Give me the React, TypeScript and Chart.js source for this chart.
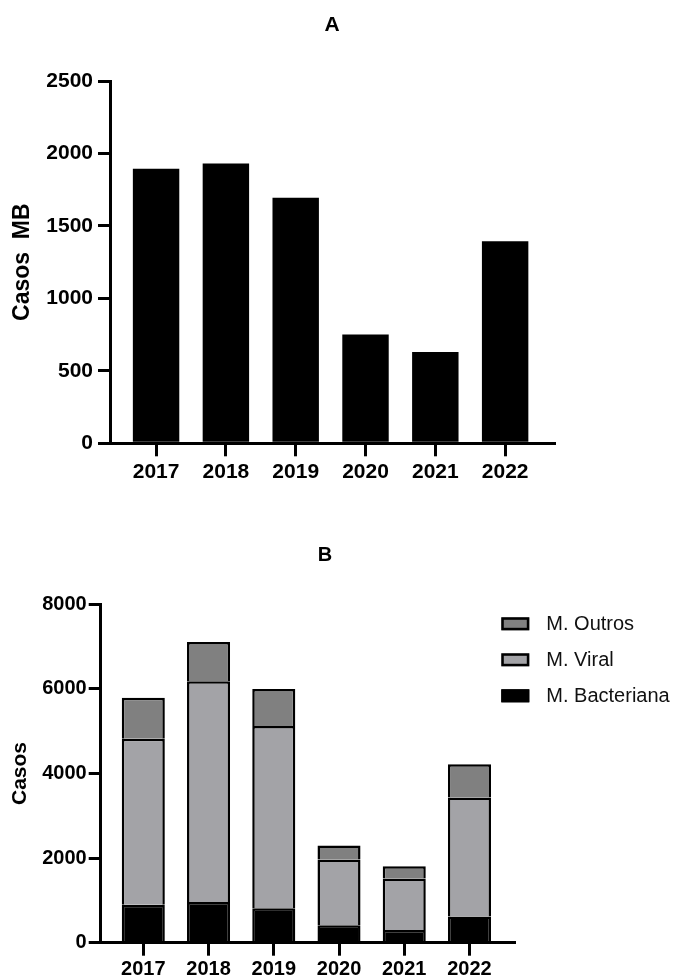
import React, { useEffect, useRef } from "react";
import { Chart, registerables } from "chart.js";

Chart.register(...registerables);
Chart.defaults.font.family = '"Liberation Sans", Arial, Helvetica, sans-serif';
Chart.defaults.color = "#000";

// ---------- data ----------
const years = ["2017", "2018", "2019", "2020", "2021", "2022"];
const casosMB = [1895, 1930, 1695, 750, 630, 1395];
const bacteriana = [895, 960, 815, 415, 300, 620];
const viral = [3925, 5220, 4305, 1550, 1215, 2815];
const outros = [970, 930, 880, 335, 295, 785];
const ticksA = [0, 500, 1000, 1500, 2000, 2500];
const ticksB = [0, 2000, 4000, 6000, 8000];

const toPoints = (vals: number[]) => vals.map((v, i) => ({ x: i, y: v }));

const xScale = (min: number, max: number, fontSize: number, height: number, pad: number, stacked: boolean) => ({
  type: "linear",
  min,
  max,
  offset: false,
  stacked,
  afterBuildTicks: (s: any) => {
    s.ticks = years.map((_, i) => ({ value: i }));
  },
  afterFit: (s: any) => {
    s.height = height;
  },
  ticks: {
    callback: (v: any) => years[v] ?? "",
    font: { size: fontSize, weight: "bold" },
    color: "#000",
    padding: pad,
    autoSkip: false,
    maxRotation: 0,
  },
  grid: {
    display: true,
    offset: false,
    drawOnChartArea: false,
    drawTicks: true,
    tickLength: 13,
    lineWidth: 3,
    color: "#000",
  },
  border: { display: true, width: 3, color: "#000", z: 1 },
});

const yScale = (
  max: number,
  ticks: number[],
  fontSize: number,
  width: number,
  pad: number,
  title: string,
  titleSize: number,
  titlePad: number,
  stacked: boolean
) => ({
  type: "linear",
  min: 0,
  max,
  stacked,
  afterBuildTicks: (s: any) => {
    s.ticks = ticks.map((v) => ({ value: v }));
  },
  afterFit: (s: any) => {
    s.width = width;
  },
  ticks: {
    callback: (v: any) => String(v),
    font: { size: fontSize, weight: "bold" },
    color: "#000",
    padding: pad,
  },
  grid: {
    display: true,
    drawOnChartArea: false,
    drawTicks: true,
    tickLength: 12,
    lineWidth: 3,
    color: "#000",
  },
  border: { display: true, width: 3, color: "#000", z: 1 },
  title: {
    display: true,
    text: title,
    font: { size: titleSize, weight: "bold" },
    color: "#000",
    padding: { top: titlePad, bottom: 0 },
  },
});

const legendB = {
  id: "legendB",
  afterDraw(chart: any) {
    const { ctx, chartArea } = chart;
    const ds = chart.data.datasets.slice().reverse();
    ctx.save();
    ds.forEach((d: any, i: number) => {
      const cy = chartArea.top + 19.5 + i * 36;
      const bx = chartArea.right - 13;
      const bw = 28;
      const bh = 13;
      ctx.fillStyle = d.backgroundColor;
      ctx.fillRect(bx, cy - bh / 2, bw, bh);
      ctx.strokeStyle = "#000";
      ctx.lineWidth = 2.5;
      ctx.strokeRect(bx + 1.25, cy - bh / 2 + 1.25, bw - 2.5, bh - 2.5);
      ctx.fillStyle = "#111";
      ctx.font = '20px "Liberation Sans", Arial, sans-serif';
      ctx.textAlign = "left";
      ctx.textBaseline = "middle";
      ctx.fillText(d.label, bx + 45, cy + 1);
    });
    ctx.restore();
  },
};

const configA = (): any => ({
  type: "bar",
  data: {
    datasets: [
      {
        label: "Casos MB",
        data: toPoints(casosMB),
        backgroundColor: "#000",
        borderWidth: 0,
        barPercentage: 0.665,
        categoryPercentage: 1,
      },
    ],
  },
  options: {
    responsive: false,
    animation: false,
    devicePixelRatio: 1,
    layout: { padding: { left: 0, right: 130, top: 0, bottom: 0 } },
    plugins: {
      legend: { display: false },
      tooltip: { enabled: false },
      title: {
        display: true,
        text: "A",
        fullSize: false,
        color: "#000",
        font: { size: 21, weight: "bold" },
        padding: { top: 13, bottom: 42.8 },
      },
    },
    scales: {
      x: xScale(-0.66, 5.7, 21, 56.7, 3, false),
      y: yScale(2500, ticksA, 21, 110, 5, "Casos  MB", 23, 9, false),
    },
  },
});

const configB = (): any => ({
  type: "bar",
  data: {
    datasets: [
      {
        label: "M. Bacteriana",
        data: toPoints(bacteriana),
        backgroundColor: "#000000",
        borderColor: "#000",
        borderWidth: 2.5,
        barPercentage: 0.66,
        categoryPercentage: 1,
      },
      {
        label: "M. Viral",
        data: toPoints(viral),
        backgroundColor: "#a3a3a7",
        borderColor: "#000",
        borderWidth: 2.5,
        barPercentage: 0.66,
        categoryPercentage: 1,
      },
      {
        label: "M. Outros",
        data: toPoints(outros),
        backgroundColor: "#808080",
        borderColor: "#000",
        borderWidth: 2.5,
        barPercentage: 0.66,
        categoryPercentage: 1,
      },
    ],
  },
  options: {
    responsive: false,
    animation: false,
    devicePixelRatio: 1,
    layout: { padding: { left: 0, right: 34, top: 0, bottom: 0 } },
    plugins: {
      legend: { display: false },
      tooltip: { enabled: false },
      title: {
        display: true,
        text: "B",
        color: "#000",
        font: { size: 20, weight: "bold" },
        padding: { top: 43, bottom: 37.3 },
      },
    },
    scales: {
      x: xScale(-0.653, 5.687, 20, 36.3, 2, true),
      y: yScale(8000, ticksB, 20, 100.7, 2, "Casos", 21, 7.5, true),
      yR: {
        type: "linear",
        position: "right",
        display: true,
        ticks: { display: false },
        grid: { display: false },
        border: { display: false },
        afterFit: (s: any) => {
          s.width = 135.7;
        },
      },
    },
  },
  plugins: [legendB],
});

function ChartCanvas({ make, top, width, height }: { make: () => any; top: number; width: number; height: number }) {
  const ref = useRef<HTMLCanvasElement | null>(null);
  useEffect(() => {
    if (!ref.current) return;
    const chart = new Chart(ref.current, make());
    return () => chart.destroy();
  }, [make]);
  return (
    <canvas
      ref={ref}
      width={width}
      height={height}
      style={{ position: "absolute", left: 0, top, width, height, display: "block" }}
    />
  );
}

export default function App() {
  return (
    <div
      style={{
        position: "absolute",
        left: 0,
        top: 0,
        width: 684,
        height: 979,
        background: "#fff",
        overflow: "hidden",
      }}
    >
      <ChartCanvas make={configA} top={0} width={684} height={500} />
      <ChartCanvas make={configB} top={500} width={684} height={479} />
    </div>
  );
}
